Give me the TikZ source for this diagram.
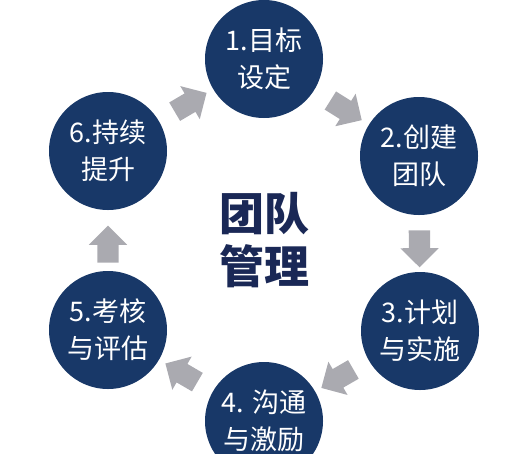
\documentclass[tikz,border=0pt]{standalone}
\usepackage{fontspec}
\newfontfamily\cjk{Noto Sans CJK SC}
\usetikzlibrary{shapes.arrows}
\definecolor{navy}{RGB}{24,56,104}
\definecolor{titlenavy}{RGB}{26,40,86}
\definecolor{arrowgray}{RGB}{170,170,176}
\begin{document}
\begin{tikzpicture}[x=1pt,y=-1pt,
  stepcircle/.style={circle, fill=navy, minimum size=118pt, inner sep=0pt,
    text=white, align=center, font=\cjk\fontsize{27}{37}\selectfont},
  flowarrow/.style={single arrow, fill=arrowgray, draw=none, minimum height=37pt,
    inner xsep=0pt, inner ysep=10.5pt, single arrow head extend=8.5pt,
    sloped, allow upside down}]
\useasboundingbox (0,0) rectangle (526,453);
\node[stepcircle] (c1) at (264,59)  {1.目标\\设定};
\node[stepcircle] (c2) at (419,156) {2.创建\\团队};
\node[stepcircle] (c3) at (420,331) {3.计划\\与实施};
\node[stepcircle] (c4) at (264,421) {4. 沟通\\与激励};
\node[stepcircle] (c5) at (108,330) {5.考核\\与评估};
\node[stepcircle] (c6) at (108,151) {6.持续\\提升};
\node[font=\cjk\bfseries\fontsize{45}{53}\selectfont, text=titlenavy, align=center]
  (title) at (264,240) {团队\\管理};
\path (c1.center) -- node[flowarrow, pos=0.5] (a12) {} (c2.center);
\path (c2.center) -- node[flowarrow, pos=0.5] (a23) {} (c3.center);
\path (c3.center) -- node[flowarrow, pos=0.5] (a34) {} (c4.center);
\path (c4.center) -- node[flowarrow, pos=0.5] (a45) {} (c5.center);
\path (c5.center) -- node[flowarrow, pos=0.45] (a56) {} (c6.center);
\path (c6.center) -- node[flowarrow, pos=0.5] (a61) {} (c1.center);
\end{tikzpicture}
\end{document}
